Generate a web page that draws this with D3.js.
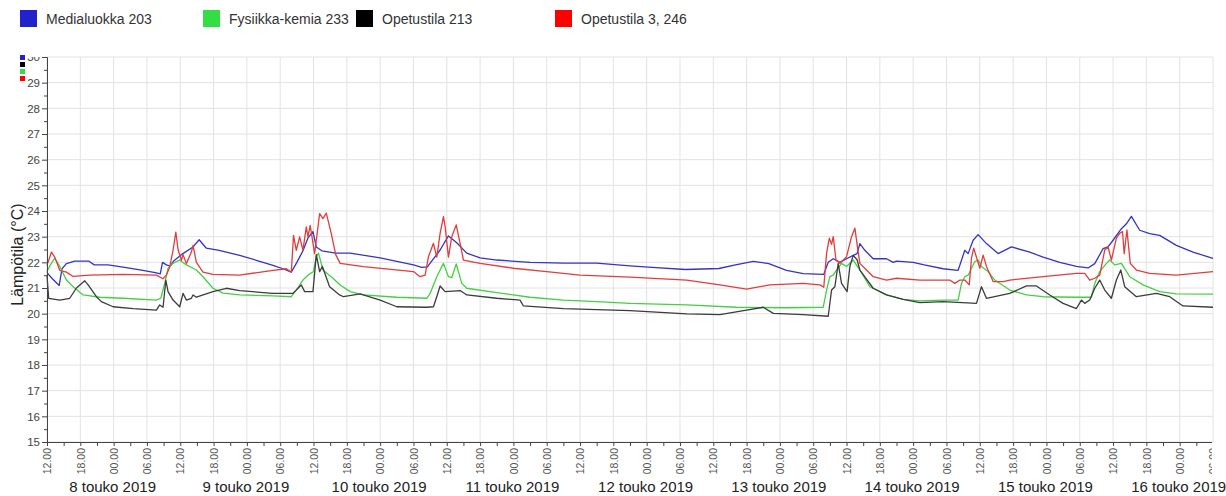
<!DOCTYPE html>
<html>
<head>
<meta charset="utf-8">
<script src="https://cdn.jsdelivr.net/npm/d3@7"></script>
<style>
  body { margin: 0; background: #fff; }
  text { font-family: "Liberation Sans", Arial, sans-serif; }
</style>
</head>
<body>
<div id="chart"></div>
<script>
// Mitat
const width = 1226;
const height = 496;
const margin = { top: 57, right: 13, bottom: 54, left: 47 };

// Sarjat ja värit
const seriesNames = ["Medialuokka 203", "Fysiikka-kemia 233", "Opetustila 213", "Opetustila 3, 246"];
const lineColors = ["#3434c8", "#44d044", "#3c3c3c", "#e23c3c"];
const legendColors = ["#2222cc", "#33dd44", "#000000", "#ff0000"];

// Aika: tunnit alkaen 8.5.2019 klo 12.00
const startTime = new Date(2019, 4, 8, 12, 0);
const endTime = new Date(2019, 4, 17, 6, 0);
const dayLabels = [8, 9, 10, 11, 12, 13, 14, 15, 16];
const yTicks = d3.range(15, 31);

// [tunti, lämpötila]
const medialuokka = [[0,21.6],[1,21.35],[2.2,21.1],[2.7,21.75],[3.5,21.95],[5,22.05],[7.5,22.05],[8.5,21.9],[11,21.9],[14,21.8],[17,21.7],[19.5,21.6],[20.4,21.55],[20.8,22.0],[21.5,21.9],[22.2,21.85],[22.8,22.05],[24.2,22.3],[26.3,22.6],[27.4,22.88],[28.7,22.55],[31,22.47],[34.7,22.27],[37.7,22.08],[40.7,21.88],[42.5,21.75],[44,21.62],[45,22.0],[46.1,22.45],[47,22.95],[47.9,23.2],[48.5,22.6],[49.5,22.45],[52,22.36],[54.6,22.36],[60,22.17],[66,21.9],[67.5,21.8],[68.5,21.82],[70.8,22.48],[72.3,23.03],[73.8,22.76],[75.6,22.36],[78,22.17],[81,22.09],[87,22.0],[93,21.97],[99,21.97],[105,21.86],[109,21.8],[115,21.72],[121,21.76],[124,21.9],[127.2,22.04],[130,21.95],[133.2,21.69],[136.2,21.56],[139.9,21.53],[140.7,22.0],[141.6,22.14],[142.8,22.0],[144,22.14],[145.2,22.27],[145.9,22.34],[146.4,22.73],[147.3,22.47],[148.8,22.14],[151.2,22.14],[152.4,22.0],[153,22.05],[156,22.0],[158,21.9],[161.4,21.75],[164.1,21.69],[165.3,22.47],[165.9,22.34],[166.8,22.86],[167.7,23.08],[169.2,22.73],[171.3,22.34],[173.7,22.6],[177,22.4],[179.4,22.2],[182.4,22.0],[185.4,21.84],[187.5,21.78],[188.7,21.95],[190.2,22.53],[191.1,22.6],[192,22.86],[193.5,23.31],[194.4,23.5],[195.3,23.79],[196.8,23.25],[198.6,23.12],[200.4,23.05],[203.4,22.66],[206.4,22.4],[210,22.15]];

const fysiikka = [[0,21.64],[0.6,21.9],[1.4,22.16],[2.3,21.84],[3.5,21.31],[4.7,21.05],[6.5,20.73],[9.5,20.64],[13.7,20.6],[19.7,20.53],[20.5,20.6],[21.2,21.18],[21.8,21.77],[22.7,21.96],[23.9,22.09],[25.1,21.9],[26.9,21.7],[28.1,21.44],[29.9,20.99],[31.7,20.8],[34.7,20.73],[40.7,20.69],[44,20.66],[44.9,20.92],[46.1,21.31],[47,21.5],[48,21.64],[48.5,22.22],[48.9,22.36],[49.7,21.7],[51.5,21.38],[52.8,21.12],[54.6,20.86],[57,20.73],[63,20.64],[68.4,20.6],[69,20.79],[70.2,21.44],[71.4,21.96],[72.3,21.44],[72.9,21.4],[73.7,21.94],[74.7,21.18],[75.6,20.99],[81,20.82],[87,20.64],[93,20.53],[99,20.47],[105,20.4],[115.2,20.34],[124.2,20.25],[133.2,20.23],[139.8,20.25],[140.4,20.92],[141,21.44],[141.6,21.5],[142.2,21.7],[143.1,21.96],[144,21.84],[145.2,22.09],[146.4,21.7],[148.2,21.05],[151.2,20.73],[154.2,20.56],[157.2,20.5],[161.4,20.53],[164.1,20.53],[164.7,21.18],[165.3,21.44],[165.9,21.5],[167.1,22.03],[167.7,22.09],[168.3,21.84],[169.5,21.64],[170.7,21.31],[173.4,20.92],[176.4,20.73],[179.4,20.66],[185.4,20.64],[188.1,20.64],[188.7,21.18],[189.6,21.64],[190.8,21.96],[191.4,22.09],[192.3,21.9],[193.5,21.96],[195,21.44],[197.4,21.12],[200.4,20.86],[203.4,20.77],[210,20.76]];

const opetustila213 = [[0,21.5],[0.3,20.6],[2.3,20.53],[4.1,20.6],[5.3,21.0],[6.8,21.28],[7.4,21.12],[8.9,20.66],[9.8,20.47],[11.9,20.27],[15.5,20.2],[19.7,20.14],[20.3,20.34],[20.9,20.25],[21.4,21.31],[21.8,20.86],[22.7,20.53],[23.9,20.27],[24.5,20.79],[25.1,20.53],[26,20.6],[26.3,20.73],[26.9,20.64],[29.9,20.86],[32.3,20.99],[34.7,20.9],[40.7,20.79],[44.3,20.79],[45.8,21.12],[46.4,20.86],[47.9,20.86],[48.5,22.3],[49.1,21.64],[49.6,21.84],[50.9,21.05],[52.7,20.73],[53.4,20.66],[56.4,20.77],[60,20.53],[63,20.27],[68.4,20.25],[69.6,20.27],[70.2,20.66],[70.8,21.08],[71.7,20.86],[74.4,20.9],[75.6,20.73],[81,20.6],[85.2,20.53],[85.8,20.3],[93,20.2],[105,20.12],[115.2,19.99],[121.2,19.96],[126,20.14],[129,20.25],[130.8,20.01],[136.2,19.96],[140.7,19.9],[141.3,20.92],[141.9,21.05],[142.5,21.96],[143.1,21.18],[144.1,20.86],[144.6,21.84],[145.2,22.27],[145.9,22.1],[146.4,21.7],[148.8,20.99],[151.2,20.73],[154.2,20.56],[157.2,20.43],[161.4,20.47],[167.4,20.4],[168.3,21.05],[169.2,20.6],[173.4,20.79],[176.4,21.08],[178.2,21.08],[180.6,20.73],[183,20.4],[185.4,20.2],[186.3,20.53],[186.9,20.4],[187.8,20.53],[188.7,20.99],[189.6,21.31],[190.5,20.92],[191.7,20.6],[192.6,21.31],[193.4,21.7],[194.1,21.05],[196.2,20.66],[199.8,20.79],[202.2,20.66],[204.6,20.3],[210,20.25]];

const opetustila246 = [[0,21.88],[0.8,22.4],[1.4,22.2],[2.3,21.69],[3.5,21.62],[4.7,21.45],[7.7,21.5],[13.7,21.53],[19.7,21.5],[20.9,21.36],[21.5,21.5],[22.1,21.82],[22.7,22.47],[23.2,23.18],[23.6,22.5],[24.2,22.08],[24.5,22.3],[25.1,21.95],[26,22.4],[26.3,22.66],[26.9,22.0],[28.1,21.62],[29.9,21.53],[34.7,21.5],[40.7,21.69],[43.1,21.75],[44,21.62],[44.4,23.05],[44.9,22.47],[45.5,22.99],[46.1,22.47],[46.7,23.38],[47,23.0],[47.4,23.44],[48.2,22.34],[49.1,23.9],[49.7,23.7],[50.3,23.92],[51.2,23.12],[52.0,22.3],[52.8,21.96],[57,21.83],[66,21.64],[67.2,21.44],[68.1,21.5],[68.7,22.22],[69.6,22.74],[70.2,22.2],[70.8,23.13],[71.4,23.78],[71.7,23.4],[72.3,22.2],[72.9,23.0],[73.7,23.46],[74.4,22.74],[75,22.09],[78,21.96],[84,21.77],[90,21.64],[96,21.5],[105,21.42],[115.2,21.31],[121.2,21.12],[126,20.96],[130.2,21.12],[136.2,21.18],[139.2,21.12],[139.9,21.03],[140.4,22.35],[140.9,22.94],[141.3,22.7],[141.6,23.0],[142.1,22.09],[142.8,21.96],[144,22.22],[144.9,23.0],[145.5,23.33],[145.9,22.7],[146.4,21.96],[147.6,21.7],[148.8,21.44],[151.2,21.31],[153,21.38],[157.2,21.31],[162.6,21.31],[163.5,21.18],[164.4,21.31],[165.3,21.31],[166.1,21.12],[166.5,22.16],[166.9,22.55],[167.4,22.2],[168,21.77],[168.6,22.28],[169.2,21.84],[170.4,21.25],[172.2,21.25],[173.4,21.31],[179.4,21.44],[185.4,21.57],[186.9,21.57],[187.8,21.31],[188.7,21.38],[189.6,21.5],[190.5,22.48],[191.1,22.6],[191.7,22.09],[192.6,22.94],[193.2,23.13],[193.7,23.2],[194,22.34],[194.5,23.26],[195.1,21.96],[196.2,21.7],[198.6,21.57],[203.4,21.5],[210,21.64]];

const allSeries = [medialuokka, fysiikka, opetustila213, opetustila246];

const toDate = h => new Date(startTime.getTime() + h * 3600e3);

const svg = d3.select("#chart")
    .append("svg")
    .attr("width", width)
    .attr("height", height);

const x = d3.scaleTime()
    .domain([startTime, endTime])
    .range([margin.left, width - margin.right]);

const y = d3.scaleLinear()
    .domain([15, 30])
    .range([height - margin.bottom, margin.top]);

// Ruudukko
svg.append("g")
    .selectAll("line")
    .data(yTicks)
    .join("line")
    .attr("x1", margin.left)
    .attr("x2", width - margin.right)
    .attr("y1", d => y(d))
    .attr("y2", d => y(d))
    .attr("stroke", "#e2e2e2");

svg.append("g")
    .selectAll("line")
    .data(d3.timeHour.every(6).range(startTime, endTime).concat([endTime]))
    .join("line")
    .attr("x1", d => x(d))
    .attr("x2", d => x(d))
    .attr("y1", margin.top)
    .attr("y2", height - margin.bottom)
    .attr("stroke", "#e2e2e2");

// Viivat
const line = d3.line()
    .x(d => x(toDate(d[0])))
    .y(d => y(d[1]));

allSeries.forEach((s, i) => {
    svg.append("path")
        .attr("d", line(s))
        .attr("fill", "none")
        .attr("stroke", lineColors[i])
        .attr("stroke-width", 1.3)
        .attr("stroke-linejoin", "round");
});

// Leikkausalueet (ryhmän omissa koordinaateissa)
const defs = svg.append("defs");
defs.append("clipPath")
    .attr("id", "yclip")
    .append("rect")
    .attr("x", -margin.left).attr("y", 57).attr("width", margin.left + 2).attr("height", height);
defs.append("clipPath")
    .attr("id", "xclip")
    .append("rect")
    .attr("x", 0).attr("y", -10).attr("width", width - margin.right - 1).attr("height", 60);

// Y-akseli
const yAxis = svg.append("g")
    .attr("transform", `translate(${margin.left},0)`)
    .attr("clip-path", "url(#yclip)")
    .call(d3.axisLeft(y).tickValues(yTicks).tickSize(5).tickPadding(2).tickFormat(d3.format("d")));
yAxis.select(".domain").attr("stroke", "#444");
yAxis.selectAll(".tick line").attr("stroke", "#444");
yAxis.selectAll("text")
    .attr("font-size", 11.5)
    .attr("fill", "#444")
    .style("font-family", "Liberation Sans, Arial, sans-serif");

svg.append("g")
    .attr("transform", `translate(${margin.left},0)`)
    .call(d3.axisLeft(y).tickValues(d3.range(15.5, 30, 1)).tickSize(3).tickFormat(""))
    .call(g => g.select(".domain").remove())
    .selectAll("line").attr("stroke", "#444");

// X-akseli
const xAxis = svg.append("g")
    .attr("transform", `translate(0,${height - margin.bottom})`)
    .attr("clip-path", "url(#xclip)")
    .call(d3.axisBottom(x)
        .ticks(d3.timeHour.every(3))
        .tickSize(4)
        .tickFormat(d => d.getHours() % 6 === 0 ? d3.timeFormat("%H.%M")(d) : ""));
xAxis.select(".domain").attr("stroke", "#444").attr("d", `M${margin.left},0.5H${width - margin.right}`);
xAxis.selectAll(".tick line").attr("stroke", "#444");

xAxis.selectAll(".tick text")
    .attr("transform", "rotate(-90)")
    .attr("text-anchor", "end")
    .attr("x", -6)
    .attr("y", 0)
    .attr("dy", "0.35em")
    .attr("font-size", 10.5)
    .attr("fill", "#555")
    .style("font-family", "Liberation Sans, Arial, sans-serif");

// Päivämäärät
svg.append("g")
    .selectAll("text")
    .data(dayLabels)
    .join("text")
    .attr("x", d => x(new Date(2019, 4, d + 1, 0, 0)) - 1)
    .attr("y", 492)
    .attr("text-anchor", "middle")
    .attr("font-size", 15)
    .attr("fill", "#222")
    .text(d => `${d} touko 2019`);

// Y-akselin otsikko
svg.append("text")
    .attr("transform", `translate(23,${y(22.3)}) rotate(-90)`)
    .attr("text-anchor", "middle")
    .attr("font-size", 16)
    .attr("fill", "#222")
    .text("Lämpötila (°C)");

// Pienet värineliöt akselin yläpäässä
const miniOrder = [0, 2, 1, 3];
svg.append("g")
    .selectAll("rect")
    .data(miniOrder)
    .join("rect")
    .attr("x", 20)
    .attr("y", (d, i) => 55 + i * 7)
    .attr("width", 5)
    .attr("height", 5)
    .attr("fill", d => legendColors[d]);

// Selite
const legendX = [20, 203, 356, 555];
const legend = svg.append("g")
    .selectAll("g")
    .data(seriesNames)
    .join("g")
    .attr("transform", (d, i) => `translate(${legendX[i]},10)`);

legend.append("rect")
    .attr("width", 17)
    .attr("height", 17)
    .attr("fill", (d, i) => legendColors[i]);

legend.append("text")
    .attr("x", 26)
    .attr("y", 14)
    .attr("font-size", 14)
    .attr("fill", "#333")
    .text(d => d);
</script>
</body>
</html>
